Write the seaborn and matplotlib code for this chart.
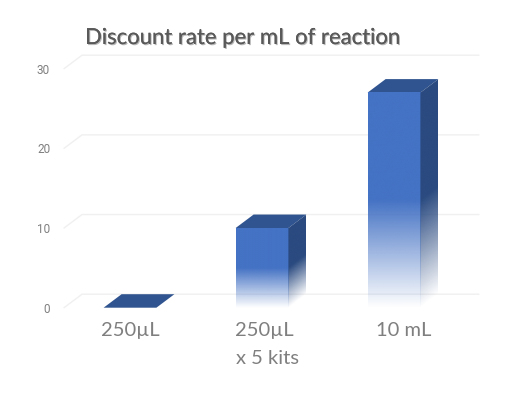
import numpy as np
import pandas as pd
import matplotlib
matplotlib.use("Agg")
import matplotlib.pyplot as plt
import matplotlib.patheffects as pe
from matplotlib.patches import Polygon
from matplotlib.transforms import ScaledTranslation
import seaborn as sns

categories = ["250µL", "250µL\nx 5 kits", "10 mL"]
discount_rate = [0, 10, 27]
y_ticks = [0, 10, 20, 30]
title_text = "Discount rate per mL of reaction"

FRONT = np.array([0x44, 0x72, 0xC4]) / 255
SIDE = np.array([0x2A, 0x4A, 0x80]) / 255
TOP = "#30548F"
GRID = "#F0F0F0"
GREY = "#7F7F7F"
W, H = 522, 396
sns.set_theme(style="white")
plt.rcParams["font.family"] = ["Lato", "DejaVu Sans"]

fig = plt.figure(figsize=(W / 100, H / 100), dpi=100, facecolor="white")
ax = fig.add_axes([64 / W, (H - 307.7) / H, 396 / W, 239 / H])
df = pd.DataFrame({"cat": categories, "val": discount_rate})
sns.barplot(data=df, x="cat", y="val", ax=ax, width=0.4, color="#4472C4", saturation=1)

XLIM, YLIM = (-0.5, 2.5), (0, 30)
DX, DY = 18 / 132, 13.5 * 30 / 239
X_END = (479 - 64) / 132 - 0.5

# receding grid
for t in y_ticks:
    ax.plot([XLIM[0], XLIM[0] + DX, X_END], [t, t + DY, t + DY], color=GRID, lw=1,
            clip_on=False, zorder=0.5, solid_joinstyle="miter")


def rgba(color, alpha):
    out = np.empty(alpha.shape + (4,))
    out[..., :3] = color
    out[..., 3] = alpha
    return out


for patch in list(ax.patches):
    x0 = patch.get_x()
    w = patch.get_width()
    h = patch.get_height()
    x1 = x0 + w
    patch.set_facecolor("none")
    patch.set_edgecolor("none")
    # top
    ax.add_patch(Polygon([(x0, h), (x1, h), (x1 + DX, h + DY), (x0 + DX, h + DY)],
                         closed=True, fc=TOP, ec="none", clip_on=False, zorder=3))
    if h <= 0:
        continue
    # front face: opaque on the top half, fading to white at the floor
    yy = np.linspace(h, 0, 200)[:, None]
    a = np.clip(yy / (h * 0.5), 0, 1)
    ax.imshow(rgba(FRONT, a), extent=(x0, x1, 0, h), aspect="auto", zorder=3,
              interpolation="bilinear", clip_on=False)
    # side face: fade follows the sloping floor edge
    xs = np.linspace(0, 1, 40)
    yy = np.linspace(h + DY, 0, 300)
    X, Y = np.meshgrid(xs, yy)
    a = np.clip((Y - X * DY) / (h * 0.5), 0, 1)
    im = ax.imshow(rgba(SIDE, a), extent=(x1, x1 + DX, 0, h + DY), aspect="auto", zorder=3,
                   interpolation="bilinear")
    clip = Polygon([(x1, 0), (x1 + DX, DY), (x1 + DX, h + DY), (x1, h)], closed=True,
                   transform=ax.transData, fc="none", ec="none")
    ax.add_patch(clip)
    clip.set_clip_on(False)
    im.set_clip_path(clip)

ax.set_xlim(*XLIM)
ax.set_ylim(*YLIM)
ax.set_xlabel("")
ax.set_ylabel("")
ax.set_yticks(y_ticks)
ax.tick_params(axis="both", length=0)
ax.tick_params(axis="y", pad=10, labelsize=8.5, labelcolor=GREY)
ax.tick_params(axis="x", pad=10, labelsize=14.5, labelcolor=GREY)
for lbl in ax.get_yticklabels():
    lbl.set_family("Roboto")
for i, lbl in enumerate(ax.get_xticklabels()):
    lbl.set_multialignment("left")
    lbl.set_linespacing(1.8)
    lbl.set_transform(lbl.get_transform() + ScaledTranslation(i * 5 / 100, 0, fig.dpi_scale_trans))
for s in ax.spines.values():
    s.set_visible(False)
ax.patch.set_alpha(0)

ttl = fig.text(85 / W, 1 - 38 / H, title_text, fontsize=15.9, color="#595959", ha="left",
               va="center", fontweight="regular")
ttl.set_path_effects([pe.withSimplePatchShadow(offset=(0.8, -0.8), shadow_rgbFace="#888888", alpha=0.6),
                      pe.Normal()])

fig.savefig("out.png", dpi=100)
